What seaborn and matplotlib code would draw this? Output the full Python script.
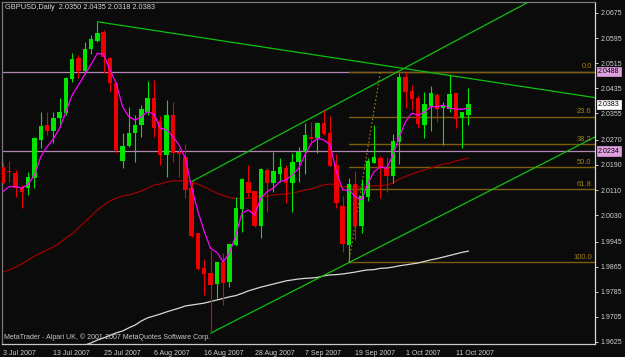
import numpy as np
import pandas as pd
import matplotlib
matplotlib.use("Agg")
import matplotlib.pyplot as plt
import seaborn as sns

# ---------------- data ----------------
symbol_title = "GBPUSD,Daily  2.0350 2.0435 2.0318 2.0383"
copyright_text = "MetaTrader - Alpari UK, \u00a9 2001-2007 MetaQuotes Software Corp."

dates = pd.bdate_range("2007-07-03", "2007-10-15")

opens = [2.0184, 2.0171, 2.0163, 2.0115, 2.0115, 2.0149, 2.0270, 2.0317, 2.0298, 2.0339,
         2.0355, 2.0463, 2.0530, 2.0490, 2.0559, 2.0587, 2.0613, 2.0532, 2.0450, 2.0204,
         2.0250, 2.0291, 2.0317, 2.0360, 2.0405, 2.0330, 2.0222, 2.0349, 2.0230, 2.0216,
         2.0115, 1.9972, 1.9860, 1.9844, 1.9809, 1.9881, 1.9817, 1.9934, 2.0049, 2.0137,
         2.0107, 1.9996, 2.0174, 2.0131, 2.0161, 2.0181, 2.0133, 2.0198, 2.0230, 2.0280,
         2.0275, 2.0325, 2.0293, 2.0190, 2.0059, 1.9934, 2.0129, 1.9996, 2.0089, 2.0197,
         2.0211, 2.0181, 2.0155, 2.0264, 2.0472, 2.0426, 2.0403, 2.0317, 2.0379, 2.0413,
         2.0373, 2.0369, 2.0419, 2.0339, 2.0350]
highs = [2.0201, 2.0204, 2.0174, 2.0126, 2.0169, 2.0280, 2.0360, 2.0360, 2.0360, 2.0403,
         2.0472, 2.0546, 2.0541, 2.0584, 2.0605, 2.0647, 2.0621, 2.0536, 2.0456, 2.0291,
         2.0376, 2.0349, 2.0381, 2.0458, 2.0461, 2.0345, 2.0397, 2.0392, 2.0243, 2.0256,
         2.0137, 1.9972, 1.9890, 1.9919, 1.9881, 1.9908, 1.9940, 2.0089, 2.0147, 2.0190,
         2.0107, 2.0179, 2.0179, 2.0232, 2.0211, 2.0190, 2.0227, 2.0248, 2.0323, 2.0326,
         2.0328, 2.0365, 2.0346, 2.0224, 2.0091, 2.0147, 2.0172, 2.0144, 2.0211, 2.0317,
         2.0219, 2.0216, 2.0289, 2.0482, 2.0488, 2.0445, 2.0413, 2.0424, 2.0442, 2.0419,
         2.0390, 2.0477, 2.0421, 2.0360, 2.0435]
lows = [2.0128, 2.0137, 2.0089, 2.0054, 2.0094, 2.0115, 2.0243, 2.0286, 2.0259, 2.0317,
        2.0349, 2.0456, 2.0466, 2.0479, 2.0543, 2.0584, 2.0482, 2.0424, 2.0227, 2.0179,
        2.0248, 2.0201, 2.0280, 2.0349, 2.0280, 2.0190, 2.0153, 2.0201, 2.0153, 2.0083,
        1.9961, 1.9855, 1.9775, 1.9653, 1.9766, 1.9743, 1.9801, 1.9932, 1.9977, 2.0089,
        1.9993, 1.9958, 2.0041, 2.0105, 2.0137, 2.0067, 2.0041, 2.0137, 2.0160, 2.0259,
        2.0227, 2.0286, 2.0187, 2.0052, 1.9913, 1.9881, 1.9950, 1.9972, 2.0076, 2.0195,
        2.0083, 2.0105, 2.0133, 2.0192, 2.0373, 2.0365, 2.0307, 2.0275, 2.0298, 2.0328,
        2.0254, 2.0360, 2.0307, 2.0243, 2.0318]
closes = [2.0131, 2.0168, 2.0115, 2.0105, 2.0153, 2.0275, 2.0314, 2.0298, 2.0339, 2.0358,
          2.0466, 2.0527, 2.0490, 2.0559, 2.0591, 2.0610, 2.0536, 2.0450, 2.0238, 2.0250,
          2.0291, 2.0317, 2.0367, 2.0405, 2.0307, 2.0222, 2.0349, 2.0227, 2.0225, 2.0110,
          1.9964, 1.9858, 1.9841, 1.9807, 1.9881, 1.9814, 1.9937, 2.0054, 2.0144, 2.0099,
          1.9996, 2.0177, 2.0131, 2.0171, 2.0184, 2.0133, 2.0201, 2.0232, 2.0286, 2.0273,
          2.0323, 2.0289, 2.0187, 2.0070, 1.9938, 2.0129, 1.9995, 2.0091, 2.0204, 2.0214,
          2.0181, 2.0155, 2.0267, 2.0472, 2.0424, 2.0401, 2.0320, 2.0383, 2.0419, 2.0369,
          2.0379, 2.0416, 2.0336, 2.0358, 2.0383]

ma_fast = [2.0105, 2.0121, 2.0121, 2.0116, 2.0128, 2.0158, 2.0216, 2.0248, 2.0273, 2.0307,
           2.0360, 2.0413, 2.0445, 2.0479, 2.0511, 2.0546, 2.0543, 2.0493, 2.0451, 2.0376,
           2.0344, 2.0333, 2.0344, 2.0360, 2.0352, 2.0307, 2.0302, 2.0280, 2.0254, 2.0211,
           2.0116, 2.0041, 1.9977, 1.9924, 1.9911, 1.9881, 1.9908, 1.9966, 2.0036, 2.0046,
           2.0030, 2.0084, 2.0105, 2.0116, 2.0137, 2.0142, 2.0158, 2.0179, 2.0222, 2.0259,
           2.0275, 2.0270, 2.0254, 2.0169, 2.0110, 2.0110, 2.0089, 2.0078, 2.0131, 2.0169,
           2.0184, 2.0179, 2.0222, 2.0280, 2.0328, 2.0355, 2.0349, 2.0358, 2.0376, 2.0376,
           2.0381, 2.0371, 2.0368, 2.0368, 2.0371]
ma_mid = [1.9848, 1.9855, 1.9864, 1.9874, 1.9887, 1.9899, 1.9909, 1.9919, 1.9928, 1.9941,
          1.9957, 1.9970, 1.9989, 2.0008, 2.0027, 2.0046, 2.0062, 2.0075, 2.0084, 2.0091,
          2.0094, 2.0100, 2.0107, 2.0116, 2.0126, 2.0129, 2.0136, 2.0139, 2.0140, 2.0139,
          2.0136, 2.0129, 2.0120, 2.0110, 2.0100, 2.0093, 2.0086, 2.0083, 2.0083, 2.0084,
          2.0086, 2.0088, 2.0091, 2.0094, 2.0096, 2.0097, 2.0100, 2.0105, 2.0110, 2.0113,
          2.0120, 2.0126, 2.0129, 2.0126, 2.0120, 2.0120, 2.0120, 2.0120, 2.0121, 2.0123,
          2.0124, 2.0126, 2.0132, 2.0145, 2.0153, 2.0161, 2.0168, 2.0174, 2.0180, 2.0187,
          2.0193, 2.0196, 2.0203, 2.0207, 2.0212]
ma_slow_start = 13
ma_slow = [1.9615, 1.9622, 1.9631, 1.9638, 1.9646, 1.9654, 1.9660, 1.9670, 1.9679, 1.9692,
           1.9702, 1.9708, 1.9714, 1.9721, 1.9727, 1.9733, 1.9740, 1.9743, 1.9746, 1.9749,
           1.9754, 1.9759, 1.9764, 1.9769, 1.9773, 1.9780, 1.9788, 1.9794, 1.9800, 1.9805,
           1.9810, 1.9815, 1.9820, 1.9823, 1.9826, 1.9828, 1.9829, 1.9831, 1.9836, 1.9839,
           1.9840, 1.9842, 1.9845, 1.9848, 1.9852, 1.9855, 1.9856, 1.9860, 1.9861, 1.9864,
           1.9868, 1.9871, 1.9874, 1.9877, 1.9882, 1.9887, 1.9891, 1.9896, 1.9901, 1.9906,
           1.9911, 1.9915]

# horizontal support / resistance lines
hlines = [2.0488, 2.0234]
# fibonacci retracement
fib_high, fib_low = 2.0488, 1.9880
fib_low_bar, fib_high_bar = 55, 60
fib_levels = [0.0, 23.6, 38.2, 50.0, 61.8, 100.0]
# trend lines: (bar, price) -> (bar, price)
trend_down = [(15, 2.0647), (94.1, 2.0405)]
channel_up = [(30, 2.0137), (94.1, 2.0823)]
channel_low = [(33, 1.9653), (94.1, 2.0279)]

ytick_values = [2.0675, 2.0595, 2.0515, 2.0435, 2.0355, 2.0270, 2.0190, 2.0110,
                2.0030, 1.9945, 1.9865, 1.9785, 1.9705, 1.9625]
xtick_labels = ["3 Jul 2007", "13 Jul 2007", "25 Jul 2007", "6 Aug 2007", "16 Aug 2007",
                "28 Aug 2007", "7 Sep 2007", "19 Sep 2007", "1 Oct 2007", "11 Oct 2007"]
last_price = 2.0383

# ---------------- style ----------------
BG = "#0a0b0a"
sns.set_style("dark", {"axes.facecolor": BG, "figure.facecolor": BG,
                       "axes.grid": False})
plt.rcParams["font.family"] = ["Liberation Sans", "DejaVu Sans"]

W, H = 625, 357
fig = plt.figure(figsize=(W / 100, H / 100), dpi=100)
ax = fig.add_axes([2 / W, 13 / H, 593 / W, 342 / H])
ax.set_facecolor(BG)

idx = np.arange(len(dates))
o = np.array(opens); h = np.array(highs); l = np.array(lows); c = np.array(closes)
up = c >= o
GREEN, RED = "#00e400", "#ee0000"
cols = np.where(up, GREEN, RED)

# wicks and bodies
ax.vlines(idx, l, h, colors=cols, lw=0.8, zorder=3)
body_bottom = np.minimum(o, c)
body_h = np.maximum(np.abs(c - o), 0.00015)
ax.bar(idx, body_h, bottom=body_bottom, width=0.7, color=cols, linewidth=0, zorder=4)

# moving averages via seaborn
df = pd.DataFrame({"bar": idx, "fast": ma_fast, "mid": ma_mid})
sns.lineplot(data=df, x="bar", y="mid", ax=ax, color="#a00000", lw=0.9, zorder=2, legend=False)
df_slow = pd.DataFrame({"bar": np.arange(ma_slow_start, ma_slow_start + len(ma_slow)), "slow": ma_slow})
sns.lineplot(data=df_slow, x="bar", y="slow", ax=ax, color="#d8d8d8", lw=0.9, zorder=2, legend=False)
sns.lineplot(data=df, x="bar", y="fast", ax=ax, color="#ff00ff", lw=0.9, zorder=5, legend=False)

# horizontal lines
for yv in hlines:
    ax.axhline(yv, color="#b585b5", lw=0.9, zorder=1)

# fibonacci
FIB = "#7d5d0c"
xmax = 94.12
for lv in fib_levels:
    yv = fib_high - lv / 100 * (fib_high - fib_low)
    ax.plot([fib_low_bar, xmax], [yv, yv], color=FIB, lw=1.0, zorder=1)
    ax.text(93.6, yv + 0.0004, f"{lv:.1f}", color="#a5801c", fontsize=5.4, ha="right", va="bottom", zorder=6)
ax.plot([fib_low_bar, fib_high_bar], [fib_low, fib_high], color="#a5801c", lw=0.8, ls=(0, (1.5, 2)), zorder=1)

# trend lines
for seg in (trend_down, channel_up, channel_low):
    (x0, y0), (x1, y1) = seg
    ax.plot([x0, x1], [y0, y1], color="#10c010", lw=0.9, zorder=2)

# axes limits / ticks
ax.set_xlim(-0.16, xmax)
ax.set_ylim(1.96185, 2.07101)
ax.yaxis.tick_right()
ax.set_yticks(ytick_values)
ax.set_yticklabels([f"{v:.4f}" for v in ytick_values])
tick_pos = [int(np.argmax(dates == pd.to_datetime(s, format="%d %b %Y"))) for s in xtick_labels]
ax.set_xticks(tick_pos)
ax.set_xticklabels(xtick_labels)
for t in ax.get_xticklabels():
    t.set_horizontalalignment("left")
ax.tick_params(axis="both", colors="#d0d0d0", labelsize=5, length=2.5, width=0.7,
               direction="out", pad=1.5)
ax.tick_params(axis="y", labelright=True, labelleft=False, right=True, left=False)
ax.set_xlabel(""); ax.set_ylabel("")

for side, col in (("left", "#7a7a7a"), ("top", "#7a7a7a"), ("right", "#d8d8d8"), ("bottom", "#c8c8c8")):
    ax.spines[side].set_visible(True)
    ax.spines[side].set_color(col)
    ax.spines[side].set_linewidth(0.9)

# price boxes on the right scale
def price_box(yv, face):
    ax.annotate(f"{yv:.4f}", xy=(1.0, yv), xycoords=("axes fraction", "data"),
                xytext=(2.2, 0), textcoords="offset points", fontsize=5, color="black",
                ha="left", va="center", annotation_clip=False, zorder=10,
                bbox=dict(boxstyle="square,pad=0.2", fc=face, ec=face, lw=0.5))

price_box(hlines[0], "#e0a0e0")
price_box(hlines[1], "#e0a0e0")
price_box(last_price, "#ffffff")

# texts
fig.text(5 / W, 1 - 7.5 / H, symbol_title, color="#d8d8d8", fontsize=5.3, ha="left", va="center")
fig.text(4 / W, 1 - 337 / H, copyright_text, color="#c8c8c8", fontsize=5, ha="left", va="center")

fig.savefig("out.png", dpi=100, facecolor=BG)
